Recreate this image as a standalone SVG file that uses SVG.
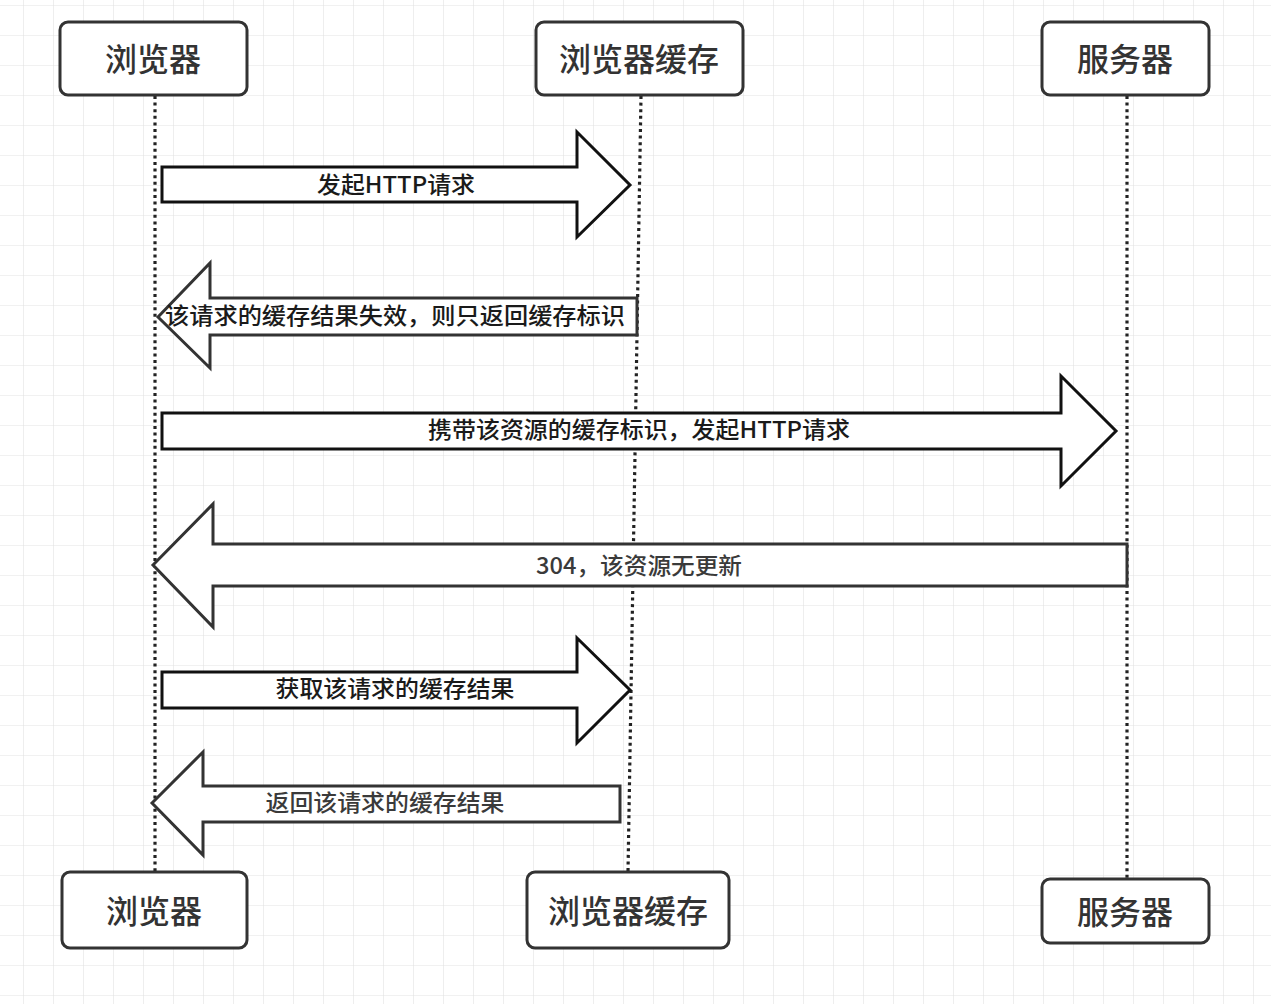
<svg xmlns="http://www.w3.org/2000/svg" width="1271" height="1004" viewBox="0 0 1271 1004">
<defs>
<pattern id="grid" x="23" y="5" width="30" height="30" patternUnits="userSpaceOnUse">
<path d="M0 0 V30 M0 0 H30" fill="none" stroke="#e3e3e3" stroke-width="1.2"/>
</pattern>
</defs>
<style>
.node rect{fill:#fff;stroke:#333;stroke-width:3}
.node text{font-family:"Noto Sans CJK SC","Noto Sans",sans-serif;font-size:32px;font-weight:500;fill:#333;text-anchor:middle;dominant-baseline:central}
.life{fill:none;stroke:#222;stroke-width:3.2;stroke-dasharray:3 3.6}
.arr{fill:#fff;stroke-width:3;stroke-linejoin:miter}
.dark{stroke:#111}
.grey{stroke:#333}
.lbl{font-family:"Noto Sans CJK SC","Noto Sans",sans-serif;font-size:23px;font-weight:500;text-anchor:middle;dominant-baseline:central}
.lbl.d{fill:#1a1a1a}
.lbl.g{fill:#3a3a3a}
</style>
<rect width="1271" height="1004" fill="#fff"/>
<rect width="1271" height="1004" fill="url(#grid)"/>
<g id="lifelines">
<line class="life" x1="155" y1="96" x2="155" y2="872"/>
<line class="life" x1="641" y1="96" x2="628" y2="872"/>
<line class="life" x1="1127" y1="96" x2="1127" y2="879"/>
</g>
<g id="node-browser-top" class="node"><rect x="60" y="22" width="187" height="73" rx="8"/><text x="153" y="57">浏览器</text></g>
<g id="node-cache-top" class="node"><rect x="536" y="22" width="207" height="73" rx="8"/><text x="639" y="57">浏览器缓存</text></g>
<g id="node-server-top" class="node"><rect x="1042" y="22" width="167" height="73" rx="8"/><text x="1125" y="57">服务器</text></g>
<g id="node-browser-bottom" class="node"><rect x="62" y="872" width="185" height="76" rx="8"/><text x="154" y="909">浏览器</text></g>
<g id="node-cache-bottom" class="node"><rect x="527" y="872" width="202" height="76" rx="8"/><text x="628" y="909">浏览器缓存</text></g>
<g id="node-server-bottom" class="node"><rect x="1042" y="879" width="167" height="64" rx="8"/><text x="1125" y="910">服务器</text></g>
<g id="connectors">
<g id="msg1">
<path class="arr dark" d="M162 167 H577 V132 L630 185 L577 237 V202 H162 Z"/>
<text class="lbl d" x="396" y="183" textLength="158" lengthAdjust="spacingAndGlyphs">发起HTTP请求</text>
</g>
<g id="msg2">
<path class="arr grey" d="M158 317 L210 263 V298 H637 V335 H210 V368 Z"/>
<text class="lbl d" x="395" y="314" textLength="460" lengthAdjust="spacingAndGlyphs">该请求的缓存结果失效，则只返回缓存标识</text>
</g>
<g id="msg3">
<path class="arr dark" d="M162 413 H1061 V376 L1116 431 L1061 486 V449 H162 Z"/>
<text class="lbl d" x="639" y="428" textLength="422" lengthAdjust="spacingAndGlyphs">携带该资源的缓存标识，发起HTTP请求</text>
</g>
<g id="msg4">
<path class="arr grey" d="M153 565 L213 504 V544 H1127 V586 H213 V627 Z"/>
<text class="lbl g" x="639" y="564" textLength="206" lengthAdjust="spacingAndGlyphs">304，该资源无更新</text>
</g>
<g id="msg5">
<path class="arr dark" d="M162 672 H577 V638 L630 690 L577 743 V708 H162 Z"/>
<text class="lbl d" x="395" y="687" textLength="239" lengthAdjust="spacingAndGlyphs">获取该请求的缓存结果</text>
</g>
<g id="msg6">
<path class="arr grey" d="M152 803 L203 752 V786 H620 V822 H203 V855 Z"/>
<text class="lbl g" x="385" y="801" textLength="239" lengthAdjust="spacingAndGlyphs">返回该请求的缓存结果</text>
</g>
</g>
</svg>
